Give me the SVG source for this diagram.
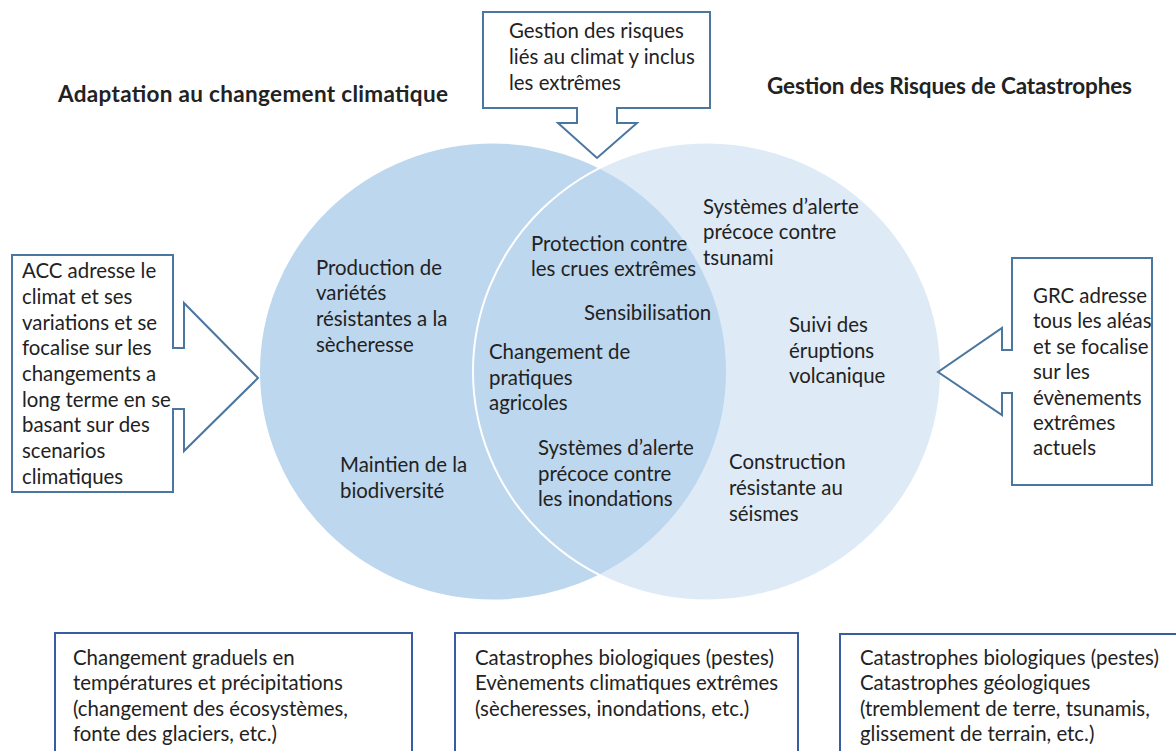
<svg xmlns="http://www.w3.org/2000/svg" width="1176" height="751" viewBox="0 0 1176 751">
<style>
text{font-family:Lato,"Liberation Sans",sans-serif;font-size:20.4px;fill:#222}
.h{font-weight:bold;font-size:22.5px}
.callout{fill:#fff;stroke:#4A76A0;stroke-width:2}
.box{fill:#fff;stroke:#3A5DA0;stroke-width:2}
</style>
<rect width="1176" height="751" fill="#fff"/>
<g id="circles">
<ellipse id="acc-circle" cx="493" cy="371.5" rx="234" ry="229" fill="#BDD7EE" stroke="#fff" stroke-width="2"/>
<ellipse id="grc-circle" cx="707" cy="371.5" rx="234" ry="229" fill="#BDD7EE" fill-opacity="0.5" stroke="#fff" stroke-width="2"/>
</g>
<g id="headings">
<text class="h" x="58" y="102" textLength="390" lengthAdjust="spacing">Adaptation au changement climatique</text>
<text class="h" x="767" y="94" textLength="365" lengthAdjust="spacing">Gestion des Risques de Catastrophes</text>
</g>
<g id="connectors">
<path id="top-callout" class="callout" d="M483,12 H710 V108 H617 V123 H637 L597,158 L558,123 H577 V108 H483 Z"/>
<path id="left-callout" class="callout" d="M12,255 H173 V348 H184 V303 L258,378 L184,451 V409 H173 V492 H12 Z"/>
<path id="right-callout" class="callout" d="M1012,258 H1152 V485 H1012 V393 H1002 V415 L938,372 L1002,328 V350 H1012 Z"/>
</g>
<g id="top-node">
<text x="509" y="38">Gestion des risques</text>
<text x="509" y="64">liés au climat y inclus</text>
<text x="509" y="90">les extrêmes</text>
</g>
<g id="left-node">
<text x="22" y="278">ACC adresse le</text>
<text x="22" y="304">climat et ses</text>
<text x="22" y="330">variations et se</text>
<text x="22" y="355">focalise sur les</text>
<text x="22" y="381">changements a</text>
<text x="22" y="407">long terme en se</text>
<text x="22" y="432">basant sur des</text>
<text x="22" y="458">scenarios</text>
<text x="22" y="484">climatiques</text>
</g>
<g id="right-node">
<text x="1033" y="303">GRC adresse</text>
<text x="1033" y="328">tous les aléas</text>
<text x="1033" y="354">et se focalise</text>
<text x="1033" y="379">sur les</text>
<text x="1033" y="405">évènements</text>
<text x="1033" y="430">extrêmes</text>
<text x="1033" y="455">actuels</text>
</g>
<g id="acc-items">
<text x="316" y="275">Production de</text>
<text x="316" y="300">variétés</text>
<text x="316" y="326">résistantes a la</text>
<text x="316" y="352">sècheresse</text>
<text x="340" y="472">Maintien de la</text>
<text x="340" y="498">biodiversité</text>
</g>
<g id="common-items">
<text x="531" y="251">Protection contre</text>
<text x="531" y="276">les crues extrêmes</text>
<text x="584" y="320">Sensibilisation</text>
<text x="489" y="359">Changement de</text>
<text x="489" y="385">pratiques</text>
<text x="489" y="410">agricoles</text>
<text x="538" y="455">Systèmes d’alerte</text>
<text x="538" y="481">précoce contre</text>
<text x="538" y="506">les inondations</text>
</g>
<g id="grc-items">
<text x="703" y="214">Systèmes d’alerte</text>
<text x="703" y="239">précoce contre</text>
<text x="703" y="265">tsunami</text>
<text x="789" y="332">Suivi des</text>
<text x="789" y="358">éruptions</text>
<text x="789" y="383">volcanique</text>
<text x="729" y="469">Construction</text>
<text x="729" y="495">résistante au</text>
<text x="729" y="521">séismes</text>
</g>
<g id="bottom-left">
<rect class="box" x="55" y="633" width="357" height="130"/>
<text x="73" y="665">Changement graduels en</text>
<text x="73" y="690">températures et précipitations</text>
<text x="73" y="716">(changement des écosystèmes,</text>
<text x="73" y="741">fonte des glaciers, etc.)</text>
</g>
<g id="bottom-middle">
<rect class="box" x="455" y="633" width="343" height="130"/>
<text x="475" y="665">Catastrophes biologiques (pestes)</text>
<text x="475" y="690">Evènements climatiques extrêmes</text>
<text x="475" y="716">(sècheresses, inondations, etc.)</text>
</g>
<g id="bottom-right">
<rect class="box" x="840" y="634" width="350" height="130"/>
<text x="860" y="665">Catastrophes biologiques (pestes)</text>
<text x="860" y="690">Catastrophes géologiques</text>
<text x="860" y="716">(tremblement de terre, tsunamis,</text>
<text x="860" y="741">glissement de terrain, etc.)</text>
</g>
</svg>
